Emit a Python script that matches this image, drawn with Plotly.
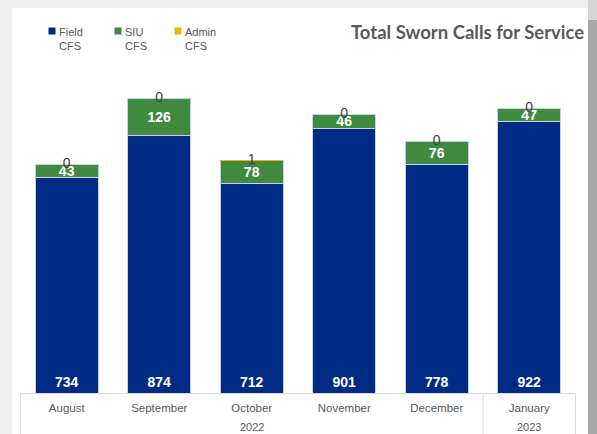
import plotly.graph_objects as go

months = ["August", "September", "October", "November", "December", "January"]
years = ["2022", "2022", "2022", "2022", "2022", "2023"]
series_names = ["Field", "SIU", "Admin"]
field_cfs = [734, 874, 712, 901, 778, 922]
siu_cfs = [43, 126, 78, 46, 76, 47]
admin_cfs = [0, 0, 1, 0, 0, 0]
colors = ["#002b84", "#3f8a3f", "#f0b400"]

totals = [f + s + a for f, s, a in zip(field_cfs, siu_cfs, admin_cfs)]

W0, W1, H0, H1 = 20, 576, 68, 393
def px(v):
    return (v - W0) / (W1 - W0)
def py(v):
    return (H1 - v) / (H1 - H0)

outline = dict(color="#c5d3ec", width=1)
label_font = dict(family="Liberation Sans, Arial", size=14, color="white", weight="bold")

fig = go.Figure()
fig.add_trace(go.Bar(
    x=months, y=field_cfs, name=series_names[0],
    marker=dict(color=colors[0], line=outline),
    text=[str(v) for v in field_cfs], textposition="inside", textangle=0,
    insidetextanchor="start", constraintext="none", textfont=label_font,
))
fig.add_trace(go.Bar(
    x=months, y=siu_cfs, name=series_names[1],
    marker=dict(color=colors[1], line=outline),
    text=[str(v) for v in siu_cfs], textposition="inside", textangle=0,
    insidetextanchor="middle", constraintext="none", textfont=label_font,
))
fig.add_trace(go.Bar(
    x=months, y=admin_cfs, name=series_names[2],
    marker=dict(color=colors[2], line=dict(width=0)),
    textposition="none",
))
fig.add_trace(go.Scatter(
    x=months, y=totals, mode="text", text=[str(v) for v in admin_cfs],
    textposition="middle center", showlegend=False, cliponaxis=False,
    textfont=dict(family="Liberation Sans, Arial", size=14, color="#404040"),
    hoverinfo="skip",
))

shapes = [
    dict(type="rect", xref="paper", yref="paper", x0=px(12), x1=px(588), y0=py(434), y1=py(8),
         fillcolor="white", line=dict(width=0), layer="below"),
    dict(type="rect", xref="paper", yref="paper", x0=px(588), x1=px(597), y0=py(434), y1=py(20),
         fillcolor="#a9a9a9", line=dict(width=0), layer="below"),
    dict(type="rect", xref="paper", yref="paper", x0=px(588), x1=px(597), y0=py(20), y1=py(0),
         fillcolor="#d6d6d6", line=dict(width=0), layer="below"),
]

# group dividers on the category axis (at group boundaries)
groups = []
for i, yr in enumerate(years):
    if not groups or groups[-1][0] != yr:
        groups.append([yr, i, i])
    else:
        groups[-1][2] = i
bounds = sorted({g[1] - 0.5 for g in groups} | {g[2] + 0.5 for g in groups})
for b in bounds:
    shapes.append(dict(type="line", xref="x", yref="paper", x0=b, x1=b, y0=0, y1=py(434),
                       line=dict(color="#d9d9d9", width=1)))

annotations = [dict(
    text="<b>Total Sworn Calls for Service</b>", xref="paper", yref="paper",
    x=px(586), y=py(32), xanchor="right", yanchor="middle", showarrow=False,
    font=dict(family="Lato, Open Sans", size=18.5, color="#595959"),
)]
for g in groups:
    annotations.append(dict(
        text=g[0], xref="x", yref="paper", x=(g[1] + g[2]) / 2, y=py(427),
        xanchor="center", yanchor="middle", showarrow=False,
        font=dict(family="Liberation Sans, Arial", size=11, color="#595959"),
    ))

# custom legend
leg_x = [52, 118, 178]
for name, c, lx in zip(series_names, colors, leg_x):
    shapes.append(dict(type="rect", xref="paper", yref="paper",
                       x0=px(lx - 3.5), x1=px(lx + 3.5), y0=py(34.5), y1=py(27.5),
                       fillcolor=c, line=dict(width=0)))
    annotations.append(dict(
        text=name + "<br>CFS", xref="paper", yref="paper", x=px(lx + 5), y=py(24),
        xanchor="left", yanchor="top", align="left", showarrow=False,
        font=dict(family="Liberation Sans, Arial", size=11, color="#595959"),
    ))

fig.update_layout(
    width=597, height=434,
    margin=dict(l=W0, r=597 - W1, t=H0, b=434 - H1, pad=0),
    paper_bgcolor="#efefef", plot_bgcolor="white",
    barmode="stack", bargap=0.32,
    shapes=shapes, annotations=annotations,
    showlegend=False,
    xaxis=dict(
        type="category", showline=True, linecolor="#d9d9d9", linewidth=1,
        tickfont=dict(family="Liberation Sans, Arial", size=11.5, color="#595959"),
        ticks="", showgrid=False, ticklabelstandoff=4,
    ),
    yaxis=dict(range=[0, 1105], visible=False, showgrid=False),
)

fig.write_html("out.html", config={"displayModeBar": False},
               post_script="document.body.style.margin='0';document.body.style.background='#efefef';")
